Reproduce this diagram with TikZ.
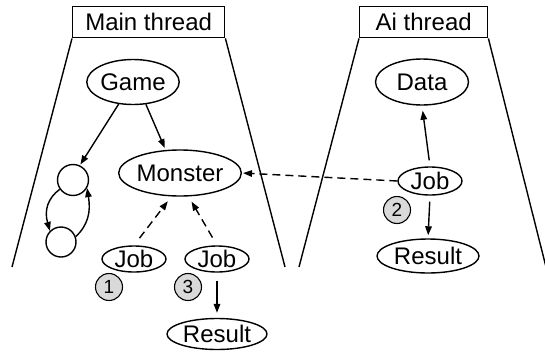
\documentclass[tikz,border=0pt]{standalone}
\usepackage{fontspec}
\setmainfont{Liberation Sans}
\usetikzlibrary{arrows.meta,shapes.geometric}
\begin{document}
\begin{tikzpicture}[x=1pt,y=-1pt,
  every node/.style={font=\fontsize{24}{28}\selectfont, inner sep=0pt},
  line width=1.4pt,
  thread/.style={draw, rectangle, anchor=north west},
  oval/.style={draw, ellipse},
  state/.style={draw, circle, minimum size=31pt},
  badge/.style={draw, circle, fill=black!15, minimum size=27pt, line width=1.1pt, font=\fontsize{19}{22}\selectfont},
  arr/.style={-{Triangle[length=9pt,width=6.5pt]}},
  darr/.style={arr, dash pattern=on 8pt off 5pt}
]
\useasboundingbox (0,0) rectangle (545,356);
% thread headers
\node[thread, minimum width=152pt, minimum height=31pt] (mt) at (72,6) {Main thread};
\node[thread, minimum width=128pt, minimum height=31pt] (at) at (359,6) {Ai thread};
\coordinate (mtl) at (12,267);
\coordinate (mtr) at (285,267);
\coordinate (atl) at (299,267);
\coordinate (atr) at (546,267);
\draw (mt.south west) -- (mtl);
\draw (mt.south east) -- (mtr);
\draw (at.south west) -- (atl);
\draw (at.south east) -- (atr);
% main thread nodes
\node[oval, minimum width=92pt, minimum height=45pt] (game) at (133,82) {Game};
\node[oval, minimum width=122pt, minimum height=46pt] (monster) at (180,173) {Monster};
\node[state] (c1) at (73,180) {};
\node[state, minimum size=30pt] (c2) at (61,242) {};
\node[oval, minimum width=64pt, minimum height=26pt] (job1) at (134,259) {Job};
\node[oval, minimum width=64pt, minimum height=26pt] (job3) at (217,259) {Job};
\node[badge] (b1) at (109,287) {1};
\node[badge] (b3) at (188,287) {3};
\node[oval, minimum width=100pt, minimum height=31pt] (res1) at (217,334) {Result};
% ai thread nodes
\node[oval, minimum width=93pt, minimum height=46pt] (data) at (422,82) {Data};
\node[oval, minimum width=64pt, minimum height=28pt] (jobai) at (430,181) {Job};
\node[badge] (b2) at (397,210) {2};
\node[oval, minimum width=102pt, minimum height=34pt] (res2) at (428,256) {Result};
% connectors
\draw[arr, shorten >=1pt] (game.237) -- (c1.65);
\draw[arr, shorten >=2pt] (game.300) -- (monster.122);
\draw[arr] (c1.215) .. controls (48,198) and (44,210) .. (c2.north west);
\draw[arr] (c2.20) .. controls (88,225) and (91,212) .. (c1.-30);
\draw[darr, shorten <=9pt, shorten >=6pt] (job1.north) -- (monster.250);
\draw[darr, shorten <=9pt, shorten >=6pt] (job3.north) -- (monster.290);
\draw[arr, shorten <=8pt, shorten >=5pt] (job3.south) -- (res1.north);
\draw[darr, shorten >=1pt] (jobai.west) -- (monster.east);
\draw[arr, shorten <=6pt, shorten >=5pt] (jobai.north) -- (data.south);
\draw[arr, shorten <=6pt, shorten >=3pt] (jobai.south) -- (res2.north);
\end{tikzpicture}
\end{document}
